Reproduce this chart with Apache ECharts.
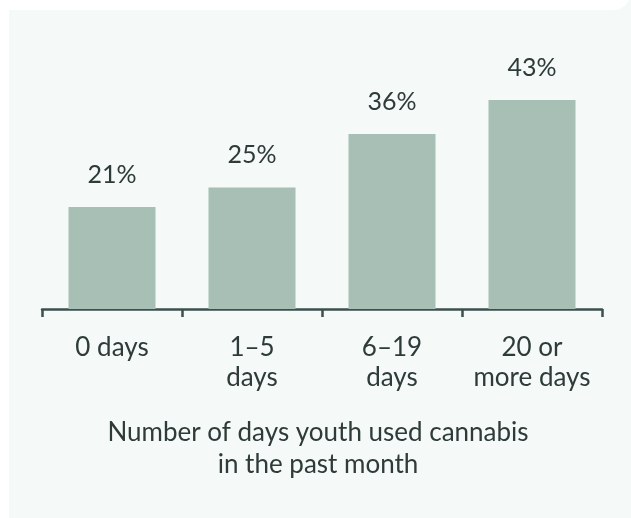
<!DOCTYPE html>
<html>
<head>
<meta charset="utf-8">
<script src="https://cdn.jsdelivr.net/npm/echarts@6/dist/echarts.min.js"></script>
<style>
  html, body { margin: 0; padding: 0; background: #ffffff; }
  #chart { width: 631px; height: 518px; }
</style>
</head>
<body>
<div id="chart"></div>
<script>
// Share of youth by number of days cannabis was used in the past month
const categories = ['0 days', '1\u20135\ndays', '6\u201319\ndays', '20 or\nmore days'];
const shares = [21, 25, 36, 43];
const axisTitle = 'Number of days youth used cannabis\nin the past month';

const textColor = '#2e3b39';
const fontFamily = 'Lato, "Noto Sans", sans-serif';

const chart = echarts.init(document.getElementById('chart'), null, { renderer: 'canvas' });

chart.setOption({
  backgroundColor: '#ffffff',
  animation: false,
  graphic: [
    {
      type: 'rect', z: -10, silent: true,
      shape: { x: 9, y: 0, width: 640, height: 540 },
      style: { fill: '#f5f9f8' }
    },
    {
      type: 'rect', z: -9, silent: true,
      shape: { x: -10, y: -10, width: 641, height: 20, r: [0, 0, 18, 0] },
      style: { fill: '#ffffff' }
    },
    {
      type: 'text', silent: true,
      x: 318, y: 417,
      style: {
        text: axisTitle,
        align: 'center',
        verticalAlign: 'top',
        fontFamily: fontFamily,
        fontSize: 26,
        lineHeight: 32,
        fill: textColor
      }
    }
  ],
  grid: { left: 42, right: 29, top: 17.4, bottom: 209, containLabel: false },
  xAxis: {
    type: 'category',
    data: categories,
    axisLine: { lineStyle: { color: '#3d504e', width: 2.5 } },
    axisTick: { show: true, length: 8, lineStyle: { color: '#3d504e', width: 2.5 } },
    axisLabel: {
      fontFamily: fontFamily,
      fontSize: 26,
      lineHeight: 30,
      color: textColor,
      margin: 24,
      interval: 0
    }
  },
  yAxis: {
    type: 'value',
    min: 0,
    max: 60,
    show: false,
    splitLine: { show: false }
  },
  series: [{
    type: 'bar',
    data: shares,
    barWidth: 87,
    itemStyle: { color: '#a7bfb4' },
    label: {
      show: true,
      position: 'top',
      distance: 20,
      formatter: '{c}%',
      fontFamily: fontFamily,
      fontSize: 25,
      color: textColor
    }
  }]
});
</script>
</body>
</html>
